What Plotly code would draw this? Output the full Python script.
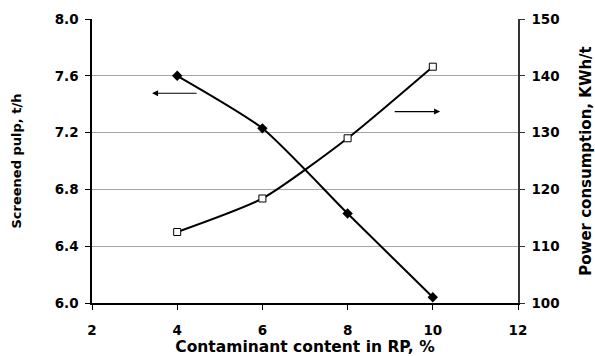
import plotly.graph_objects as go

contaminant = [4, 6, 8, 10]
screened_pulp = [7.60, 7.23, 6.63, 6.04]
power_consumption = [112.5, 118.4, 129.0, 141.6]

x_ticks = [2, 4, 6, 8, 10, 12]
y_ticks = [6.0, 6.4, 6.8, 7.2, 7.6, 8.0]
y2_ticks = [100, 110, 120, 130, 140, 150]

font_family = "DejaVu Sans"

fig = go.Figure()
fig.add_trace(go.Scatter(
    x=contaminant, y=screened_pulp, mode="lines+markers",
    line=dict(color="black", width=2, shape="spline", smoothing=0.6),
    marker=dict(symbol="diamond", size=8, color="black"),
    showlegend=False))
fig.add_trace(go.Scatter(
    x=contaminant, y=power_consumption, mode="lines+markers", yaxis="y2",
    line=dict(color="black", width=2, shape="spline", smoothing=0.6),
    marker=dict(symbol="square", size=7, color="white", line=dict(color="black", width=1)),
    showlegend=False))

fig.add_annotation(x=3.41, y=7.477, ax=4.49, ay=7.477, xref="x", yref="y", axref="x", ayref="y",
                   text="", showarrow=True, arrowhead=2, arrowsize=1, arrowwidth=1.2, arrowcolor="black")
fig.add_annotation(x=10.17, y=133.7, ax=9.07, ay=133.7, xref="x", yref="y2", axref="x", ayref="y2",
                   text="", showarrow=True, arrowhead=2, arrowsize=1, arrowwidth=1.2, arrowcolor="black")

tick_font = dict(family=font_family, size=13.5, color="black", weight="bold")

fig.update_layout(
    width=595, height=356,
    font=dict(family=font_family, color="black", weight="bold"),
    margin=dict(l=92, r=77, t=19, b=53, autoexpand=False),
    paper_bgcolor="white", plot_bgcolor="white",
    xaxis=dict(range=[2, 12], tickvals=x_ticks, showgrid=False,
               showline=True, linecolor="black", linewidth=1.5, ticks="outside", ticklen=5,
               tickcolor="black", tickfont=tick_font, zeroline=False, ticklabelstandoff=9,
               automargin=False,
               title=dict(text="Contaminant content in RP, %",
                          font=dict(family=font_family, size=15.5, color="black", weight="bold"),
                          standoff=5)),
    yaxis=dict(range=[6.0, 8.0], tickvals=y_ticks, tickformat=".1f",
               showgrid=True, gridcolor="#a6a6a6", gridwidth=1,
               showline=True, linecolor="black", linewidth=1.5, ticks="outside", ticklen=5,
               tickcolor="black", tickfont=tick_font, zeroline=False, ticklabelstandoff=4,
               automargin=False,
               title=dict(text="Screened pulp, t/h",
                          font=dict(family=font_family, size=13, color="black", weight="bold"),
                          standoff=30)),
    yaxis2=dict(range=[100, 150], tickvals=y2_ticks,
                overlaying="y", side="right",
                showgrid=False, showline=True, linecolor="#333333", linewidth=1.5, ticks="outside",
                ticklen=5, tickcolor="#333333", tickfont=tick_font, zeroline=False, ticklabelstandoff=4,
                automargin=False,
                title=dict(text="Power consumption, KWh/t",
                           font=dict(family=font_family, size=15, color="black", weight="bold"),
                           standoff=32)),
)

fig.write_html("out.html")
